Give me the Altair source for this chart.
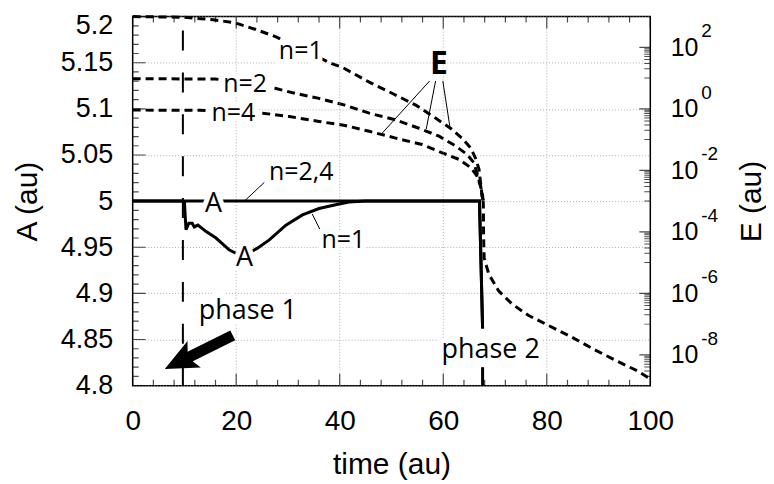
import altair as alt
import pandas as pd

# ---------------- data ----------------
# A (left axis), solid lines
t_A1 = [0, 9.7, 10.0, 10.3, 10.85, 11.5, 11.9, 12.6, 14.2, 16.1, 18.7, 21.2, 24.1, 26.4,
        29.6, 32.8, 36.0, 39.2, 41.8, 45.0, 67.0, 67.6]
A_1 = [5.0, 5.0, 4.999, 4.969, 4.976, 4.976, 4.972, 4.974, 4.967, 4.960, 4.947, 4.940,
       4.949, 4.958, 4.974, 4.985, 4.992, 4.996, 4.999, 5.0, 5.0, 4.862]
t_A24 = [0, 67.0, 67.6]
A_24 = [5.0, 5.0, 4.862]

# E (right axis, log), dashed lines
t_E1 = [0, 9.7, 15.5, 19.7, 23.8, 27.7, 38.6, 40.5, 45.7, 50.2, 54.7, 58.5, 61.4, 63.6,
        65.3, 66.2, 66.9, 67.2, 67.5, 67.7]
E_1 = [1000, 955, 794, 631, 380, 219, 28.8, 22.4, 7.4, 3.16, 1.32, 0.50, 0.234, 0.112,
       0.0537, 0.0257, 0.011, 0.0041, 0.0015, 0.00105]
t_E2 = [0, 16, 22, 27.7, 31.5, 36.0, 41.0, 45.7, 50.8, 55.3, 59.2, 62.4, 64.6, 65.9,
        66.5, 67.2, 67.5, 67.7]
E_2 = [9.55, 9.33, 7.08, 4.57, 3.16, 2.19, 1.32, 0.724, 0.437, 0.234, 0.129, 0.0617,
       0.0331, 0.0178, 0.0085, 0.00316, 0.00151, 0.00105]
t_E4 = [0, 13, 19, 25.1, 30.3, 36.0, 41.0, 45.7, 50.8, 55.9, 59.8, 63.0, 65.3, 66.5,
        67.2, 67.6, 67.7]
E_4 = [0.912, 0.90, 0.81, 0.724, 0.562, 0.389, 0.288, 0.186, 0.112, 0.0692, 0.0372,
       0.0229, 0.0123, 0.0066, 0.00316, 0.00151, 0.00105]
t_tail = [67.7, 67.75, 67.8, 67.9, 68.8, 70.7, 73.3, 76.5, 80.3, 84.8, 89.3, 93.8,
          97.7, 99.6, 100]
E_tail = [0.00105, 7.2e-4, 6.2e-5, 1.4e-5, 4.2e-6, 1.2e-6, 4.5e-7, 1.9e-7, 9.1e-8,
          3.8e-8, 1.45e-8, 6.0e-9, 2.9e-9, 1.8e-9, 1.6e-9]

# axes
x_ticks = [0, 20, 40, 60, 80, 100]
x_grid = [20, 40, 60, 80]
x_minor = [4, 8, 12, 16, 24, 28, 32, 36, 44, 48, 52, 56, 64, 68, 72, 76, 84, 88, 92, 96]
a_ticks = [4.8, 4.85, 4.9, 4.95, 5.0, 5.05, 5.1, 5.15, 5.2]
a_minor = [4.81, 4.82, 4.83, 4.84, 4.86, 4.87, 4.88, 4.89, 4.91, 4.92, 4.93, 4.94,
           4.96, 4.97, 4.98, 4.99, 5.01, 5.02, 5.03, 5.04, 5.06, 5.07, 5.08, 5.09,
           5.11, 5.12, 5.13, 5.14, 5.16, 5.17, 5.18, 5.19]
e_ticks = [1e-8, 1e-6, 1e-4, 1e-2, 1e0, 1e2]
e_exponents = ["-8", "-6", "-4", "-2", "0", "2"]
e_minor = [m * 10.0 ** k for k in [-9, -7, -5, -3, -1, 1] for m in range(1, 10)]

# annotations (time, A, text)
labels_t = [32.47, 21.73, 19.46, 32.56, 40.69, 15.61, 21.58, 22.25, 69.17]
labels_a = [5.154, 5.1187, 5.0866, 5.0232, 4.949, 4.9882, 4.9294, 4.8724, 4.8296]
labels_txt = ["n=1", "n=2", "n=4", "n=2,4", "n=1", "A", "A", "phase 1", "phase 2"]
labels_size = [25, 25, 25, 25, 25, 27, 27, 27, 27]
E_label = {"t": [59.15], "a": [5.138], "txt": ["E"]}

leader_t1 = [25.43, 34.68, 57.36, 58.52, 59.92]
leader_t2 = [21.58, 36.36, 48.23, 56.71, 61.27]
leader_a1 = [5.0203, 4.9861, 5.1302, 5.1302, 5.1302]
leader_a2 = [5.0, 4.9672, 5.0738, 5.0781, 5.081]

phase1_t = [9.7]
phase2_t = [67.6]
arrow_t = [19.33, 10.48]
arrow_a = [4.8545, 4.8298]
arrow_tip = {"t": [6.2], "a": [4.8179]}

# ---------------- chart ----------------
FONT = "Liberation Sans"
ANN = "Open Sans"
GRID = "#b0b0b0"

X_AXIS = alt.Axis(values=x_ticks, grid=False, ticks=False, domain=False,
                  labelFont=FONT, titleFont=FONT, labelFlush=False,
                  labelFontSize=28, titleFontSize=30, titleFontWeight="normal",
                  labelColor="black", titleColor="black", labelPadding=22,
                  titlePadding=14)


def xs():
    return alt.Scale(domain=[0, 100], nice=False, zero=False)


def As():
    return alt.Scale(domain=[4.8, 5.2], nice=False, zero=False)


def Es():
    return alt.Scale(type="log", domain=[1e-9, 1e3], nice=False)


def X(f):
    return alt.X(f, type="quantitative", scale=xs(), title="time (au)", axis=X_AXIS)


def YA(f):
    return alt.Y(f, type="quantitative", scale=As(), axis=None)


def YE(f):
    return alt.Y(f, type="quantitative", scale=Es(), axis=None)


vgrid = alt.Chart(pd.DataFrame({"t": x_grid, "a1": [4.8] * 4, "a2": [5.2] * 4})).mark_rule(
    color=GRID, strokeWidth=1, strokeDash=[1, 2]).encode(x=X("t"), y=YA("a1"), y2="a2")

dfA = pd.DataFrame({"t": t_A1 + t_A24, "A": A_1 + A_24,
                    "s": ["n1"] * len(t_A1) + ["n24"] * len(t_A24)})
a_lines = alt.Chart(dfA).mark_line(color="black", strokeWidth=3).encode(
    x=X("t"),
    y=alt.Y("A:Q", scale=As(), title="A (au)", axis=alt.Axis(
        orient="left", values=a_ticks,
        labelExpr="datum.value < 4.825 ? '4.8' : datum.value < 4.875 ? '4.85' : "
                  "datum.value < 4.925 ? '4.9' : datum.value < 4.975 ? '4.95' : "
                  "datum.value < 5.025 ? '5' : datum.value < 5.075 ? '5.05' : "
                  "datum.value < 5.125 ? '5.1' : datum.value < 5.175 ? '5.15' : '5.2'",
        labelOffset={"condition": {"test": "datum.value > 5.19", "value": 9}, "value": 0},
        grid=True, gridDash=[1, 2], gridColor=GRID, ticks=False,
        domain=False, labelFont=FONT, titleFont=FONT, labelFontSize=27,
        titleFontSize=30, titleFontWeight="normal", labelColor="black",
        titleColor="black", labelPadding=20, titlePadding=18)),
    detail="s:N",
)

phase1 = alt.Chart(pd.DataFrame({"t": phase1_t, "a1": [4.8], "a2": [5.2]})).mark_rule(
    color="black", strokeWidth=2, strokeDash=[20, 22]).encode(
    x=X("t"), y=YA("a1"), y2="a2")
phase2 = alt.Chart(pd.DataFrame({"t": phase2_t, "a1": [4.8], "a2": [4.82]})).mark_rule(
    color="black", strokeWidth=3).encode(x=X("t"), y=YA("a1"), y2="a2")

arrow_shaft = alt.Chart(pd.DataFrame({"t": arrow_t, "a": arrow_a})).mark_line(
    color="black", strokeWidth=11, strokeCap="butt").encode(x=X("t"), y=YA("a"))
arrow_head = alt.Chart(pd.DataFrame(arrow_tip)).mark_point(
    shape="M0,0L0.45,1L0,0.78L-0.45,1Z", filled=True, size=4356, angle=243.3,
    color="black", opacity=1).encode(x=X("t"), y=YA("a"))

leaders = alt.Chart(pd.DataFrame({"t1": leader_t1, "t2": leader_t2,
                                  "a1": leader_a1, "a2": leader_a2})).mark_rule(
    color="black", strokeWidth=1).encode(x=X("t1"), x2="t2", y=YA("a1"), y2="a2")

dfL = pd.DataFrame({"t": labels_t, "a": labels_a, "txt": labels_txt, "sz": labels_size})
halo = alt.Chart(dfL).mark_text(font=ANN, align="center", baseline="alphabetic",
                                color="white", stroke="white", strokeWidth=10).encode(
    x=X("t"), y=YA("a"), text="txt:N", size=alt.Size("sz:Q", scale=None, legend=None))
texts = alt.Chart(dfL).mark_text(font=ANN, align="center", baseline="alphabetic",
                                 color="black").encode(
    x=X("t"), y=YA("a"), text="txt:N", size=alt.Size("sz:Q", scale=None, legend=None))
e_text = alt.Chart(pd.DataFrame(E_label)).mark_text(
    font=ANN, fontWeight="bold", fontSize=32, align="center", baseline="alphabetic",
    color="black").encode(x=X("t"), y=YA("a"), text="txt:N")

# inward ticks (clipped to the frame)
dx_major = pd.DataFrame({"t": x_ticks * 2, "a": [4.8] * 6 + [5.2] * 6})
dx_minor = pd.DataFrame({"t": x_minor * 2, "a": [4.8] * len(x_minor) + [5.2] * len(x_minor)})
xt_major = alt.Chart(dx_major).mark_tick(orient="vertical", size=24, thickness=1.2,
                                         color="black", clip=True).encode(x=X("t"), y=YA("a"))
xt_minor = alt.Chart(dx_minor).mark_tick(orient="vertical", size=12, thickness=1.2,
                                         color="black", clip=True).encode(x=X("t"), y=YA("a"))
at_major = alt.Chart(pd.DataFrame({"t": [0] * len(a_ticks), "a": a_ticks})).mark_tick(
    orient="horizontal", size=26, thickness=1.2, color="black", clip=True).encode(
    x=X("t"), y=YA("a"))
at_minor = alt.Chart(pd.DataFrame({"t": [0] * len(a_minor), "a": a_minor})).mark_tick(
    orient="horizontal", size=12, thickness=1.2, color="black", clip=True).encode(
    x=X("t"), y=YA("a"))

dfE = pd.DataFrame({"t": t_E1 + t_E2 + t_E4 + t_tail, "E": E_1 + E_2 + E_4 + E_tail,
                    "s": ["n1"] * len(t_E1) + ["n2"] * len(t_E2) + ["n4"] * len(t_E4)
                    + ["tail"] * len(t_tail)})
e_lines = alt.Chart(dfE).mark_line(color="black", strokeWidth=3, strokeDash=[8, 5]).encode(
    x=X("t"),
    y=alt.Y("E:Q", scale=Es(), title="E (au)", axis=alt.Axis(
        orient="right", values=e_ticks, labelExpr="'10'",
        titleAngle=270, grid=False, ticks=False,
        domain=False, labelFont=FONT, titleFont=FONT, labelFontSize=25,
        titleFontSize=30, titleFontWeight="normal", labelColor="black",
        titleColor="black", labelPadding=20, titlePadding=69)),
    detail="s:N",
)
e_exp = alt.Chart(pd.DataFrame({"t": [100] * len(e_ticks), "E": e_ticks,
                                "txt": e_exponents})).mark_text(
    font=FONT, fontSize=19, align="left", baseline="alphabetic", dx=51, dy=-10,
    color="black").encode(x=X("t"), y=YE("E"), text="txt:N")
et_major = alt.Chart(pd.DataFrame({"t": [100] * len(e_ticks), "E": e_ticks})).mark_tick(
    orient="horizontal", size=22, thickness=1.2, color="black", clip=True).encode(
    x=X("t"), y=YE("E"))
et_minor = alt.Chart(pd.DataFrame({"t": [100] * len(e_minor), "E": e_minor})).mark_tick(
    orient="horizontal", size=12, thickness=1, color="black", clip=True).encode(
    x=X("t"), y=YE("E"))

chart = alt.layer(
    e_lines, vgrid, et_major, et_minor, e_exp,
    a_lines, phase1, phase2, arrow_shaft, arrow_head, leaders,
    xt_major, xt_minor, at_major, at_minor, halo, texts, e_text,
).resolve_scale(y="independent").properties(
    width=519, height=370, autosize="none",
    padding={"left": 125, "top": 8, "right": 116, "bottom": 96},
).configure_view(stroke="black", strokeWidth=1.5)

chart.save("out.html", embed_options={"renderer": "svg", "actions": False})
